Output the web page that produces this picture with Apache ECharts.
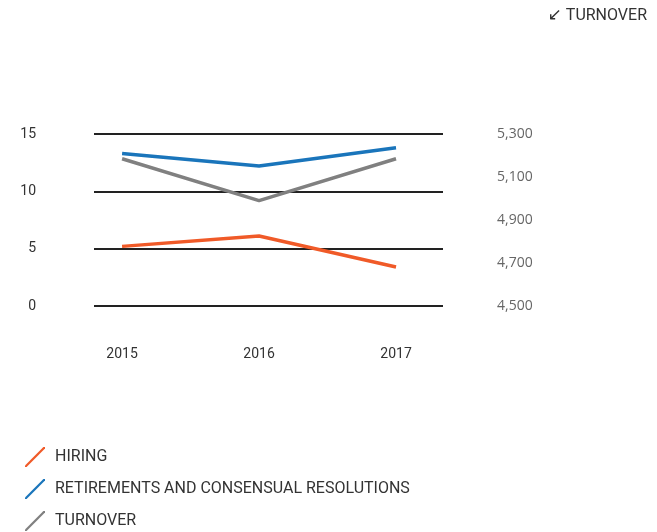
<!DOCTYPE html>
<html>
<head>
<meta charset="utf-8">
<script src="https://cdn.jsdelivr.net/npm/echarts@6/dist/echarts.min.js"></script>
<style>html,body{margin:0;padding:0;background:#fff}#c{width:657px;height:532px}</style>
</head>
<body>
<div id="c"></div>
<script>
const years = [2015, 2016, 2017];
const hiring = [5.2, 6.1, 3.4];
const retirements = [13.3, 12.2, 13.8];
const turnover = [5185, 4990, 5185];
const leftTicks = [0, 5, 10, 15];
const rightTicks = [4500, 4700, 4900, 5100, 5300];

const chart = echarts.init(document.getElementById('c'), null, {renderer: 'canvas'});
const pair = (arr) => years.map((y, i) => [y, arr[i]]);
const slash = 'path://M0,20 L1.6,20 L20,1.6 L20,0 L18.4,0 L0,18.4 Z';
chart.setOption({
  animation: false,
  title: {
    text: '{a|↙} TURNOVER', right: 10, top: 7, padding: 0,
    textStyle: {fontFamily: 'Roboto', fontSize: 16, fontWeight: 'normal', color: '#333',
      rich: {a: {fontFamily: 'DejaVu Sans', fontSize: 17, color: '#333'}}}
  },
  legend: {
    orient: 'vertical', left: 25, top: 447, itemGap: 12, padding: 0,
    itemWidth: 20, itemHeight: 20, icon: slash,
    textStyle: {fontFamily: 'Roboto', fontSize: 16, color: '#333', padding: [0, 0, 0, 5]},
    data: ['HIRING', 'RETIREMENTS AND CONSENSUAL RESOLUTIONS', 'TURNOVER']
  },
  grid: {left: 94, right: 214, top: 134, bottom: 226, containLabel: false},
  xAxis: {
    type: 'value', min: 2014.795, max: 2017.343,
    axisLine: {show: false}, axisTick: {show: false}, splitLine: {show: false},
    axisLabel: {customValues: years, margin: 41, fontFamily: 'Roboto', fontSize: 14, color: '#333',
      formatter: v => String(Math.round(v))}
  },
  yAxis: [
    {
      type: 'value', min: 0, max: 15, interval: 5, position: 'left',
      axisLine: {show: false}, axisTick: {show: false},
      axisLabel: {customValues: leftTicks, margin: 58, fontFamily: 'Roboto', fontSize: 14, color: '#333'},
      splitLine: {lineStyle: {color: '#222', width: 2}}
    },
    {
      type: 'value', min: 4500, max: 5300, interval: 200, position: 'right',
      axisLine: {show: false}, axisTick: {show: false}, splitLine: {show: false},
      axisLabel: {customValues: rightTicks, margin: 54, fontFamily: 'Open Sans', fontSize: 14, color: '#666',
        formatter: v => v.toLocaleString('en-US')}
    }
  ],
  series: [
    {name: 'HIRING', type: 'line', data: pair(hiring), yAxisIndex: 0, symbol: 'none',
      color: '#f05a28', lineStyle: {width: 3.5, cap: 'butt'}},
    {name: 'RETIREMENTS AND CONSENSUAL RESOLUTIONS', type: 'line', data: pair(retirements), yAxisIndex: 0, symbol: 'none',
      color: '#1a75bb', lineStyle: {width: 3.5, cap: 'butt'}},
    {name: 'TURNOVER', type: 'line', data: pair(turnover), yAxisIndex: 1, symbol: 'none',
      color: '#808080', lineStyle: {width: 3.5, cap: 'butt'}}
  ]
});
</script>
</body>
</html>
